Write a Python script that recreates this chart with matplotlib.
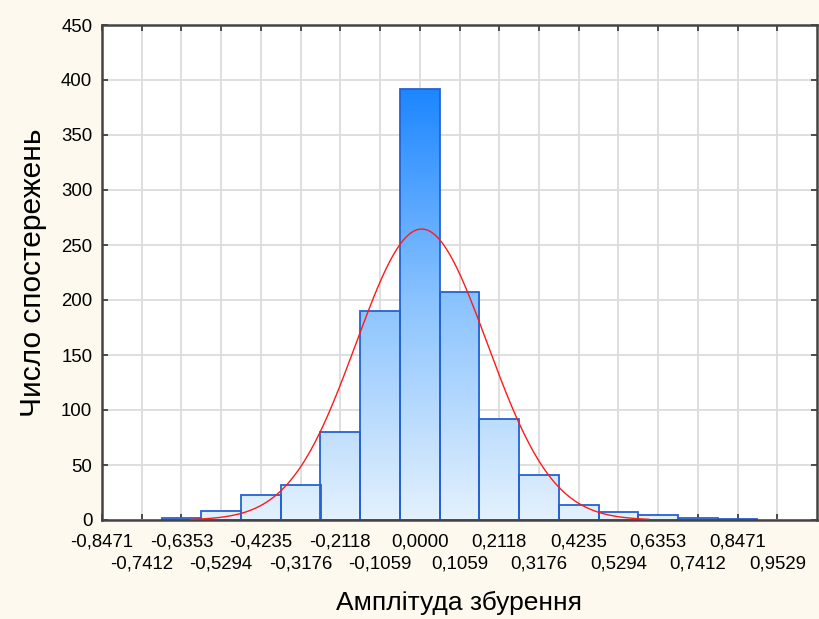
import numpy as np
import matplotlib
matplotlib.use("Agg")
import matplotlib.pyplot as plt
from matplotlib.colors import LinearSegmentedColormap

plt.rcParams['font.family'] = ['Liberation Sans', 'DejaVu Sans']

# tick positions / labels (Statistica style, comma decimals)
tick_values = [-0.8471, -0.7412, -0.6353, -0.5294, -0.4235, -0.3176, -0.2118, -0.1059,
               0.0, 0.1059, 0.2118, 0.3176, 0.4235, 0.5294, 0.6353, 0.7412, 0.8471, 0.9529]
tick_labels = ["-0,8471", "-0,7412", "-0,6353", "-0,5294", "-0,4235", "-0,3176", "-0,2118", "-0,1059",
               "0,0000", "0,1059", "0,2118", "0,3176", "0,4235", "0,5294", "0,6353", "0,7412",
               "0,8471", "0,9529"]

# histogram bins (centres) and counts
bin_centers = [-0.6353, -0.5294, -0.4235, -0.3176, -0.2118, -0.1059, 0.0,
               0.1059, 0.2118, 0.3176, 0.4235, 0.5294, 0.6353, 0.7412, 0.8471]
counts = [2, 8, 23, 32, 80, 190, 392, 207, 92, 41, 14, 7, 5, 2, 1]
bin_width = 0.10588

# fitted normal curve parameters
mu = 0.005
sigma = 0.175
curve_range = (-0.61, 0.61)

bg = '#fdf9ee'
fig = plt.figure(figsize=(8.19, 6.19), dpi=100, facecolor=bg)
ax = fig.add_axes([102 / 819, 1 - 520 / 619, (817 - 102) / 819, (520 - 25) / 619])
ax.set_facecolor('white')

cmap = LinearSegmentedColormap.from_list('grad', ['#e4f1fd', '#8cc4ff', '#1c86ff'])
grad = np.linspace(0, 1, 256).reshape(-1, 1)
ymax_grad = max(counts)

for xc, h in zip(bin_centers, counts):
    rect = plt.Rectangle((xc - bin_width / 2, 0), bin_width, h, facecolor='none',
                         edgecolor='#2462d2', linewidth=1.3, zorder=2.2)
    ax.add_patch(rect)
    im = ax.imshow(grad, cmap=cmap, origin='lower', aspect='auto',
                   extent=(xc - bin_width / 2, xc + bin_width / 2, 0, ymax_grad), zorder=2)
    im.set_clip_path(rect)

n_total = sum(counts)
xs = np.linspace(curve_range[0], curve_range[1], 400)
ys = n_total * bin_width / (sigma * np.sqrt(2 * np.pi)) * np.exp(-(xs - mu) ** 2 / (2 * sigma ** 2))
ax.plot(xs, ys, color='#ff1a1a', linewidth=1.0, zorder=3, clip_on=False)

ax.set_xlim(-0.8471, 1.0588)
ax.set_ylim(0, 450)
ax.set_yticks(range(0, 451, 50))

# staggered labels: even ones on the first row (major), odd ones on the second (minor)
ax.set_xticks(tick_values[0::2])
ax.set_xticklabels(tick_labels[0::2], fontsize=13.4)
ax.set_xticks(tick_values[1::2], minor=True)
ax.set_xticklabels(tick_labels[1::2], minor=True, fontsize=13.4)

ax.tick_params(axis='y', labelsize=13.4, pad=7)
ax.tick_params(which='both', direction='in', length=4, width=1.2, color='#333333',
               top=True, right=True, left=True, bottom=True)
ax.tick_params(axis='x', which='major', pad=10)
ax.tick_params(axis='x', which='minor', pad=25.5)

ax.set_axisbelow(True)
ax.grid(True, which='both', axis='x', color='#dcdcdc', linewidth=1.3)
ax.grid(True, which='major', axis='y', color='#dcdcdc', linewidth=1.3)
for s in ax.spines.values():
    s.set_color('#444444')
    s.set_linewidth(1.8)

ax.set_xlabel('Амплітуда збурення', fontsize=19, va='center')
ax.xaxis.set_label_coords(0.5, (520 - 603) / 495)
ax.set_ylabel('Число спостережень', fontsize=21.5, va='center')
ax.yaxis.set_label_coords((33 - 102) / 715, 0.5)

fig.savefig('out.png', dpi=100, facecolor=bg)
